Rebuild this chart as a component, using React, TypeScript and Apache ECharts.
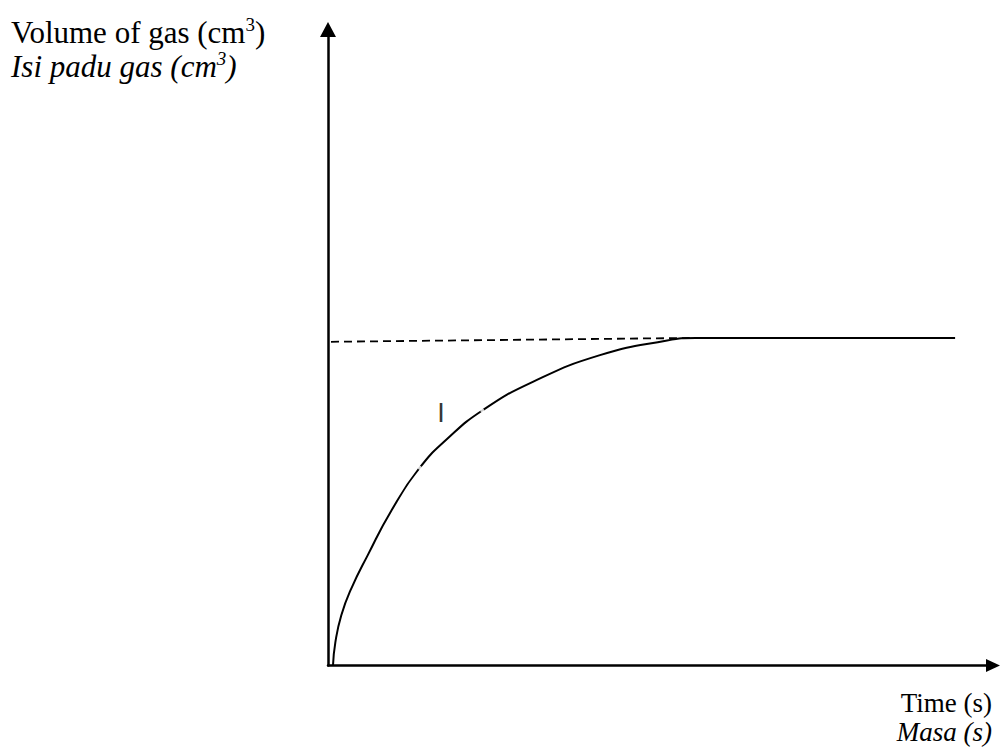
import React, { useEffect, useRef } from "react";
import * as echarts from "echarts";

// Gas volume collected over time (arbitrary units, axes carry no ticks)
const TIME = [0.75, 1.1, 2.0, 3.5, 6.0, 9.5, 13.8, 17.9, 23.2, 30.8, 40.9, 51.0, 55.3, 94.3];
const VOLUME = [0, 3.6, 7.9, 12.1, 17.4, 24.3, 31.1, 35.6, 40.1, 44.6, 48.8, 51.1, 51.5, 51.5];

// Dashed guide to the final volume
const GUIDE_TIME = [0.45, 54.4];
const GUIDE_VOLUME = [50.9, 51.5];

// Small breaks along the curve (indices into TIME / VOLUME)
const BREAK_INDEX = [6, 8];

// Curve label
const CURVE_LABEL = "I";
const CURVE_LABEL_POS = [17.0, 39.7];

const Y_TITLE = "Volume of gas (cm";
const Y_TITLE_MS = "Isi padu gas (cm";
const X_TITLE = "Time (s)";
const X_TITLE_MS = "Masa (s)";

const SERIF = "'Liberation Serif', 'Times New Roman', serif";

export default function App() {
  const ref = useRef<HTMLDivElement>(null);

  useEffect(() => {
    if (!ref.current) return;
    const chart = echarts.init(ref.current, undefined, { renderer: "svg" });

    const curve = TIME.map((t, i) => [t, VOLUME[i]]);
    const guide = GUIDE_TIME.map((t, i) => [t, GUIDE_VOLUME[i]]);
    const breaks = BREAK_INDEX.map((i) => [TIME[i], VOLUME[i]]);

    const axisLine = (size: number[]) => ({
      show: true,
      onZero: false,
      symbol: ["none", "triangle"],
      symbolSize: size,
      lineStyle: { color: "#000", width: 2.5 },
    });

    const base = { fontFamily: SERIF, color: "#000" };

    chart.setOption({
      animation: false,
      backgroundColor: "#fff",
      grid: { left: 328, right: 9, top: 29.5, bottom: 90.5 },
      xAxis: {
        type: "value",
        min: 0,
        max: 100,
        axisLine: axisLine([13, 14]),
        axisTick: { show: false },
        axisLabel: { show: false },
        splitLine: { show: false },
      },
      yAxis: {
        type: "value",
        min: 0,
        max: 100,
        axisLine: axisLine([16, 15]),
        axisTick: { show: false },
        axisLabel: { show: false },
        splitLine: { show: false },
      },
      series: [
        {
          type: "line",
          data: guide,
          showSymbol: false,
          silent: true,
          lineStyle: { color: "#000", width: 1.8, type: [8, 5] },
          z: 2,
        },
        {
          type: "line",
          data: curve,
          showSymbol: false,
          silent: true,
          smooth: 0.5,
          lineStyle: { color: "#000", width: 2 },
          z: 3,
        },
        {
          type: "scatter",
          data: breaks,
          symbol: "circle",
          symbolSize: 4,
          silent: true,
          itemStyle: { color: "#fff" },
          z: 4,
        },
        {
          type: "scatter",
          data: [CURVE_LABEL_POS],
          symbolSize: 0,
          silent: true,
          label: {
            show: true,
            position: "inside",
            formatter: CURVE_LABEL,
            color: "#000",
            fontFamily: "'Liberation Sans', Arial, sans-serif",
            fontSize: 27,
          },
          z: 5,
        },
      ],
      graphic: [
        {
          type: "text",
          left: 11,
          top: 15,
          style: {
            text: `{a|${Y_TITLE}}{s|3}{a|)}\n{i|${Y_TITLE_MS}}{si|3}{i|)}`,
            rich: {
              a: { ...base, fontSize: 31, lineHeight: 34 },
              s: { ...base, fontSize: 19, lineHeight: 18, verticalAlign: "top" },
              i: { ...base, fontSize: 31, lineHeight: 34, fontStyle: "italic" },
              si: { ...base, fontSize: 19, lineHeight: 18, verticalAlign: "top", fontStyle: "italic" },
            },
          },
        },
        {
          type: "text",
          right: 10,
          top: 689,
          style: {
            text: `{a|${X_TITLE}}\n{i|${X_TITLE_MS}}`,
            align: "right",
            rich: {
              a: { ...base, fontSize: 27, lineHeight: 29, align: "right" },
              i: { ...base, fontSize: 27, lineHeight: 29, fontStyle: "italic", align: "right" },
            },
          },
        },
      ],
    });

    return () => chart.dispose();
  }, []);

  return (
    <div
      ref={ref}
      style={{ position: "fixed", left: 0, top: 0, width: 1002, height: 756, background: "#fff" }}
    />
  );
}
